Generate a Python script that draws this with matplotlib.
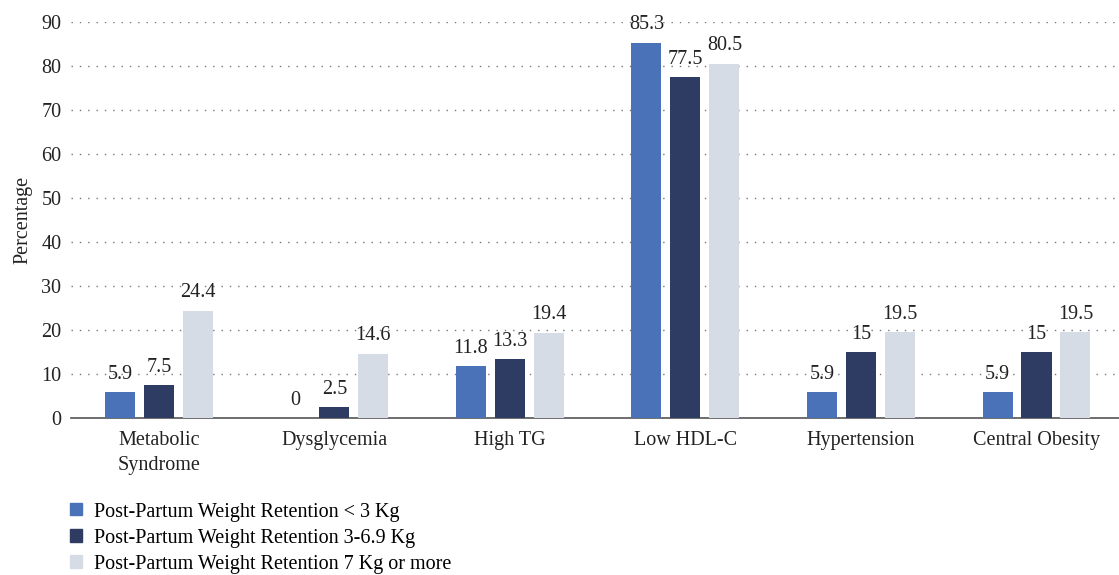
import matplotlib.pyplot as plt
from matplotlib.patches import Patch
import numpy as np

plt.rcParams['font.family'] = ['Liberation Serif', 'DejaVu Serif']

categories = ['Metabolic\nSyndrome', 'Dysglycemia', 'High TG', 'Low HDL-C',
              'Hypertension', 'Central Obesity']
series_names = ['Post-Partum Weight Retention < 3 Kg',
                'Post-Partum Weight Retention 3-6.9 Kg',
                'Post-Partum Weight Retention 7 Kg or more']
low = [5.9, 0, 11.8, 85.3, 5.9, 5.9]
mid = [7.5, 2.5, 13.3, 77.5, 15, 15]
high = [24.4, 14.6, 19.4, 80.5, 19.5, 19.5]
labels_low = ['5.9', '0', '11.8', '85.3', '5.9', '5.9']
labels_mid = ['7.5', '2.5', '13.3', '77.5', '15', '15']
labels_high = ['24.4', '14.6', '19.4', '80.5', '19.5', '19.5']
colors = ['#4a72b8', '#2e3b62', '#d5dce6']
fs = 14.5

fig = plt.figure(figsize=(11.19, 5.75), dpi=100)
ax = fig.add_axes([0.0635, 0.273, 0.9365, 0.689])

x = np.arange(len(categories))
w = 0.171
step = 0.222
for k, (vals, labs) in enumerate([(low, labels_low), (mid, labels_mid), (high, labels_high)]):
    pos = x + (k - 1) * step
    ax.bar(pos, vals, width=w, color=colors[k], zorder=3)
    for p, v, t in zip(pos, vals, labs):
        ax.annotate(t, (p, v), xytext=(0, 6), textcoords='offset points',
                    ha='center', va='bottom', fontsize=fs, color='#222222')

ax.set_xlim(-0.5, 5.47)
ax.set_ylim(0, 90)
ax.set_yticks(range(0, 91, 10))
ax.set_xticks(x)
ax.set_xticklabels(categories, fontsize=fs, color='#222222', linespacing=1.45)
ax.tick_params(axis='both', length=0, labelsize=fs, colors='#222222')
ax.tick_params(axis='x', pad=9)
ax.tick_params(axis='y', pad=7)
ax.yaxis.grid(True, linestyle=(0, (1, 5)), color='#777777', linewidth=1)
ax.set_axisbelow(True)
for s in ['top', 'right', 'left']:
    ax.spines[s].set_visible(False)
ax.spines['bottom'].set_color('#555555')
ax.spines['bottom'].set_linewidth(1.2)
ax.set_ylabel('Percentage', fontsize=fs, color='#222222', labelpad=6)

handles = [Patch(color=c) for c in colors]
fig.legend(handles, series_names, loc='upper left', bbox_to_anchor=(0.063, 0.126),
           frameon=False, fontsize=fs, handlelength=0.55, handleheight=0.55,
           handletextpad=0.6, labelspacing=0.35, borderaxespad=0, borderpad=0)

fig.savefig('out.png', dpi=100)
